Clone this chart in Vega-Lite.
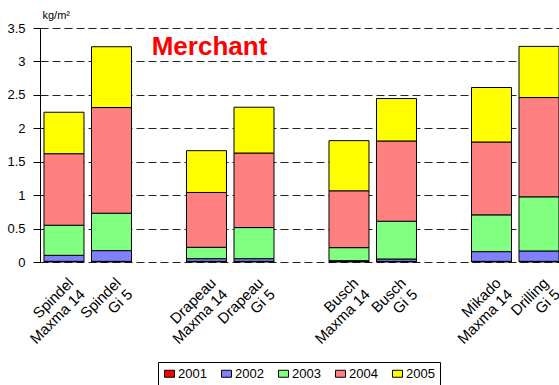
{
  "$schema": "https://vega.github.io/schema/vega-lite/v6.json",
  "width": 519,
  "height": 234,
  "autosize": {"type": "none"},
  "padding": {"left": 40, "top": 28, "right": 0, "bottom": 123},
  "config": {"font": "Liberation Sans", "view": {"stroke": null}},
  "encoding": {
    "x": {
      "field": "cat", "type": "nominal",
      "scale": {
        "domain": ["Spindel|Maxma 14", "Spindel|Gi 5", "gap1", "Drapeau|Maxma 14", "Drapeau|Gi 5", "gap2", "Busch|Maxma 14", "Busch|Gi 5", "gap3", "Mikado|Maxma 14", "Drilling|Gi 5"],
        "paddingInner": 0.158, "paddingOuter": 0.042, "align": 1
      },
      "axis": {
        "title": null, "ticks": false, "domain": false, "grid": false,
        "labelAngle": -45, "labelFontSize": 15, "labelColor": "black",
        "labelAlign": "right", "labelBaseline": "top", "labelPadding": 13, "labelOffset": 2,
        "labelLineHeight": 16,
        "labelExpr": "indexof(datum.label,'gap')==0 ? '' : split(datum.label,'|')"
      }
    },
    "y": {
      "field": "value", "type": "quantitative", "stack": "zero",
      "scale": {"domain": [0, 3.5], "nice": false},
      "axis": {
        "values": [0, 0.5, 1, 1.5, 2, 2.5, 3, 3.5], "format": "~g", "labelOverlap": false,
        "grid": true, "gridDash": [8, 4], "gridColor": "#222", "gridOpacity": 1,
        "tickSize": 7, "tickColor": "black", "domainColor": "black",
        "labelFontSize": 13, "labelColor": "black", "labelPadding": 8,
        "title": "kg/m²", "titleAngle": 0, "titleAlign": "left", "titleX": 2, "titleY": -10,
        "titleBaseline": "alphabetic", "titleFontSize": 11, "titleFontWeight": "normal", "titleColor": "black"
      }
    }
  },
  "layer": [
    {
      "data": {"values": [
        {"cat": "Spindel|Maxma 14", "year": "2001", "value": 0.01},
        {"cat": "Spindel|Maxma 14", "year": "2002", "value": 0.09},
        {"cat": "Spindel|Maxma 14", "year": "2003", "value": 0.45},
        {"cat": "Spindel|Maxma 14", "year": "2004", "value": 1.07},
        {"cat": "Spindel|Maxma 14", "year": "2005", "value": 0.62},
        {"cat": "Spindel|Gi 5", "year": "2001", "value": 0.01},
        {"cat": "Spindel|Gi 5", "year": "2002", "value": 0.16},
        {"cat": "Spindel|Gi 5", "year": "2003", "value": 0.56},
        {"cat": "Spindel|Gi 5", "year": "2004", "value": 1.58},
        {"cat": "Spindel|Gi 5", "year": "2005", "value": 0.91},
        {"cat": "Drapeau|Maxma 14", "year": "2001", "value": 0.01},
        {"cat": "Drapeau|Maxma 14", "year": "2002", "value": 0.04},
        {"cat": "Drapeau|Maxma 14", "year": "2003", "value": 0.17},
        {"cat": "Drapeau|Maxma 14", "year": "2004", "value": 0.82},
        {"cat": "Drapeau|Maxma 14", "year": "2005", "value": 0.625},
        {"cat": "Drapeau|Gi 5", "year": "2001", "value": 0.01},
        {"cat": "Drapeau|Gi 5", "year": "2002", "value": 0.04},
        {"cat": "Drapeau|Gi 5", "year": "2003", "value": 0.465},
        {"cat": "Drapeau|Gi 5", "year": "2004", "value": 1.115},
        {"cat": "Drapeau|Gi 5", "year": "2005", "value": 0.685},
        {"cat": "Busch|Maxma 14", "year": "2001", "value": 0.01},
        {"cat": "Busch|Maxma 14", "year": "2002", "value": 0.01},
        {"cat": "Busch|Maxma 14", "year": "2003", "value": 0.195},
        {"cat": "Busch|Maxma 14", "year": "2004", "value": 0.85},
        {"cat": "Busch|Maxma 14", "year": "2005", "value": 0.75},
        {"cat": "Busch|Gi 5", "year": "2001", "value": 0.01},
        {"cat": "Busch|Gi 5", "year": "2002", "value": 0.035},
        {"cat": "Busch|Gi 5", "year": "2003", "value": 0.565},
        {"cat": "Busch|Gi 5", "year": "2004", "value": 1.2},
        {"cat": "Busch|Gi 5", "year": "2005", "value": 0.635},
        {"cat": "Mikado|Maxma 14", "year": "2001", "value": 0.01},
        {"cat": "Mikado|Maxma 14", "year": "2002", "value": 0.145},
        {"cat": "Mikado|Maxma 14", "year": "2003", "value": 0.55},
        {"cat": "Mikado|Maxma 14", "year": "2004", "value": 1.09},
        {"cat": "Mikado|Maxma 14", "year": "2005", "value": 0.815},
        {"cat": "Drilling|Gi 5", "year": "2001", "value": 0.01},
        {"cat": "Drilling|Gi 5", "year": "2002", "value": 0.155},
        {"cat": "Drilling|Gi 5", "year": "2003", "value": 0.81},
        {"cat": "Drilling|Gi 5", "year": "2004", "value": 1.485},
        {"cat": "Drilling|Gi 5", "year": "2005", "value": 0.765}
      ]},
      "mark": {"type": "bar", "stroke": "black", "strokeWidth": 1},
      "encoding": {
        "color": {
          "field": "year", "type": "nominal",
          "scale": {"domain": ["2001", "2002", "2003", "2004", "2005"], "range": ["#FF0000", "#8080FF", "#80FF80", "#FF8080", "#FFFF00"]},
          "legend": {
            "title": null, "orient": "none", "legendX": 118, "legendY": 334,
            "direction": "horizontal", "columns": 5,
            "symbolType": "M-1,-0.7H1V0.7H-1Z", "symbolSize": 100,
            "symbolStrokeColor": "black", "symbolStrokeWidth": 1, "symbolOpacity": 1,
            "labelFontSize": 13, "labelColor": "black", "labelOffset": 2, "columnPadding": 12,
            "padding": 5, "strokeColor": "black", "fillColor": "white"
          }
        },
        "order": {"field": "year", "type": "ordinal", "sort": "ascending"}
      }
    },
    {
      "data": {"values": [{"cat": "Drapeau|Maxma 14", "value": 3.22, "label": "Merchant"}]},
      "mark": {"type": "text", "color": "#FF0000", "fontSize": 26, "fontWeight": "bold", "align": "center", "baseline": "middle", "dx": 3},
      "encoding": {
        "text": {"field": "label"}
      }
    }
  ]
}
